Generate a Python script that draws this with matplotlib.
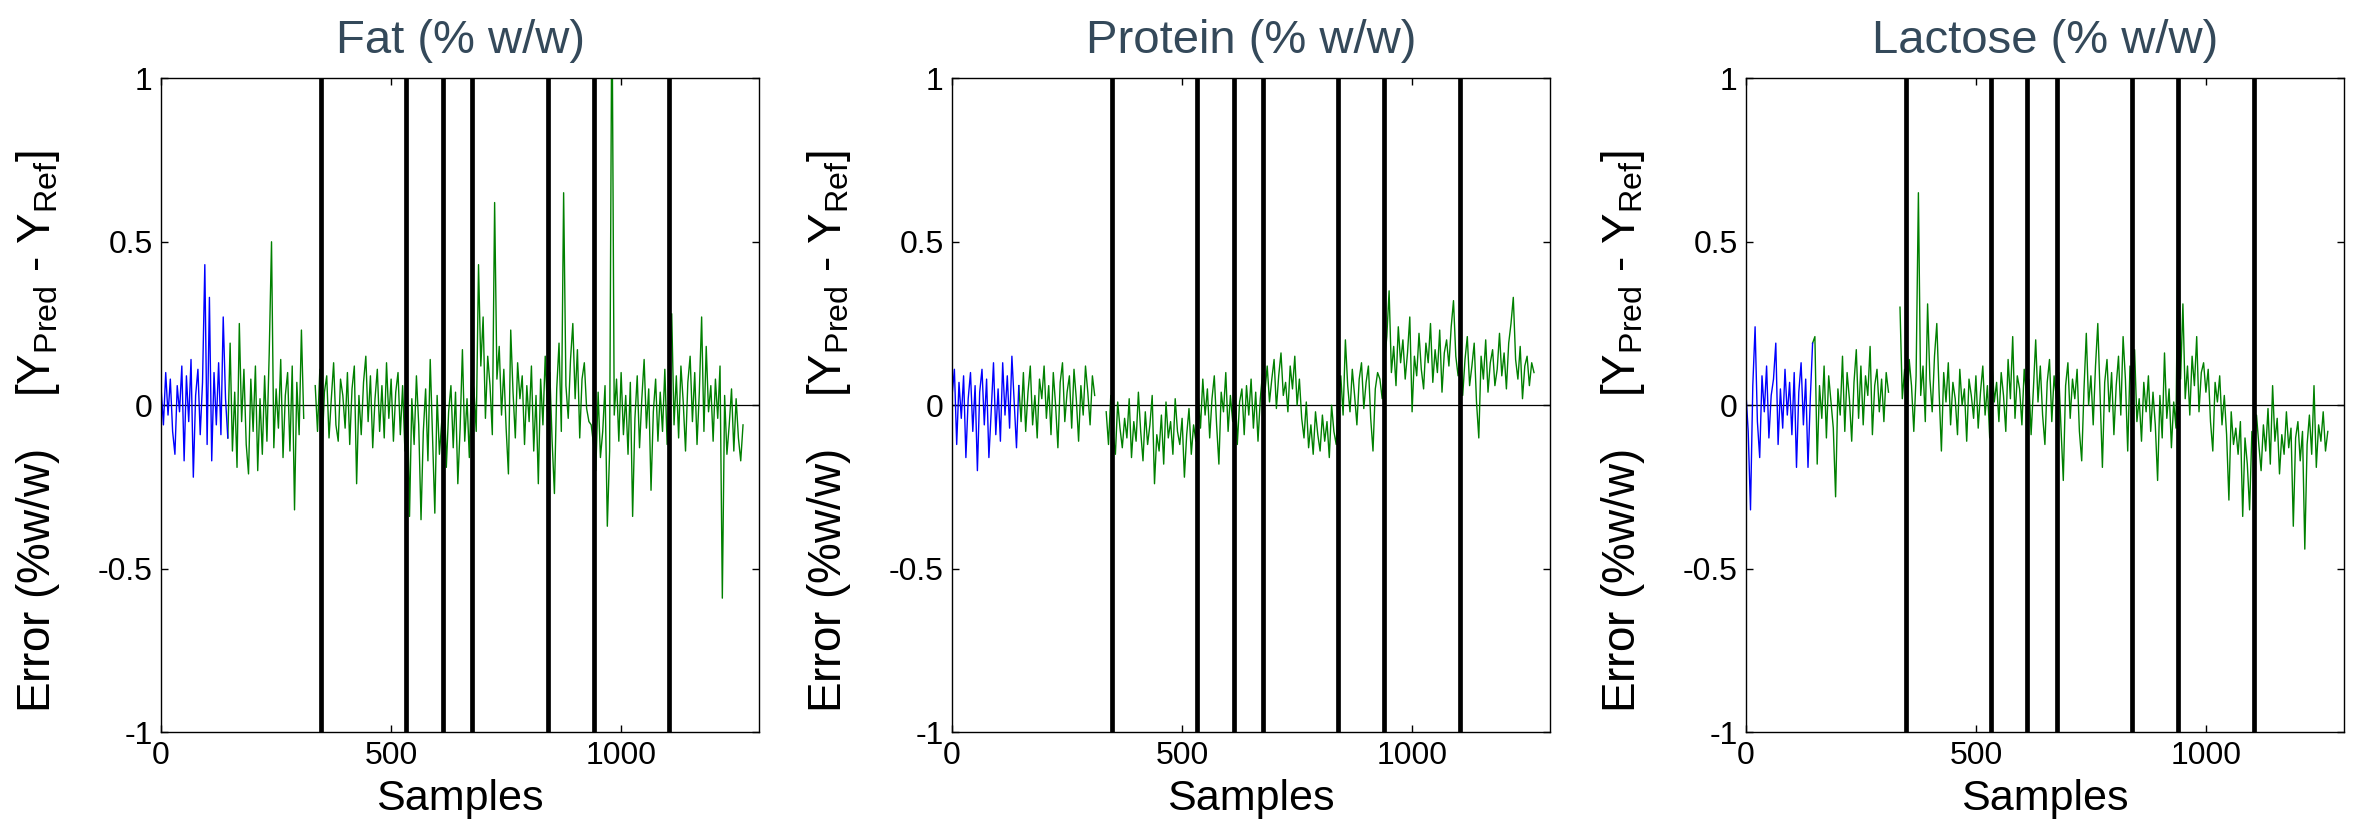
import numpy as np
import matplotlib
matplotlib.use("Agg")
import matplotlib.pyplot as plt
from matplotlib.ticker import FuncFormatter
from matplotlib import font_manager

# font: narrow arial-like if available
names = {f.name for f in font_manager.fontManager.ttflist}
FONT = 'Liberation Sans Narrow' if 'Liberation Sans Narrow' in names else 'Liberation Sans'
plt.rcParams['font.family'] = [FONT, 'DejaVu Sans']
plt.rcParams['mathtext.fontset'] = 'custom'
plt.rcParams['mathtext.rm'] = FONT
plt.rcParams['mathtext.it'] = FONT

nan = np.nan
SAMPLE_STEP = 5        # one value every 5 samples
N_CAL = 30             # first points (calibration) drawn in blue

titles = ["Fat (% w/w)", "Protein (% w/w)", "Lactose (% w/w)"]
boundaries = [348, 533, 612, 676, 840, 940, 1104]
x_ticks = [0, 500, 1000]
y_ticks = [-1, -0.5, 0, 0.5, 1]

fat_err = [
    0.05, -0.06, 0.10, -0.03, 0.08, -0.08, -0.15, 0.06, -0.02, 0.12,
    -0.17, 0.09, -0.05, 0.14, -0.22, 0.03, 0.11, -0.09, 0.07, 0.43,
    -0.12, 0.33, -0.17, 0.10, -0.06, 0.13, -0.09, 0.27, 0.02, -0.10,
    0.19, -0.14, 0.04, -0.19, 0.25, -0.05, 0.11, -0.12, -0.21, 0.08,
    -0.08, 0.12, -0.20, 0.02, -0.15, 0.09, -0.11, 0.16, 0.50, -0.13,
    0.05, -0.07, 0.14, -0.16, 0.03, 0.10, -0.14, 0.12, -0.32, 0.07,
    -0.09, 0.23, -0.04, nan, nan, nan, nan, 0.06, -0.08, 0.11,
    -0.13, 0.04, 0.09, -0.10, 0.02, 0.13, -0.06, -0.11, 0.08, 0.03,
    -0.07, 0.10, -0.12, 0.05, 0.12, -0.24, 0.03, -0.09, 0.07, 0.15,
    -0.05, 0.09, -0.13, 0.02, 0.11, -0.08, 0.06, -0.10, 0.13, -0.04,
    0.08, -0.11, 0.04, 0.10, -0.09, 0.06, -0.14, 0.07, -0.34, 0.02,
    -0.12, 0.09, -0.06, -0.35, -0.08, 0.05, -0.17, 0.14, -0.10, -0.33,
    0.03, -0.15, -0.05, 0.08, -0.19, -0.02, 0.06, -0.13, 0.04, -0.24,
    -0.07, 0.17, -0.11, 0.02, -0.16, 0.09, 0.05, -0.08, 0.43, 0.12,
    0.27, -0.04, 0.15, 0.06, -0.09, 0.62, 0.08, 0.18, -0.03, 0.11,
    -0.07, -0.21, 0.23, 0.04, -0.10, 0.13, 0.02, 0.09, -0.12, 0.06,
    -0.05, 0.12, -0.14, 0.03, -0.24, 0.08, -0.06, 0.15, -0.02, 0.10,
    -0.11, -0.27, 0.05, 0.19, -0.08, 0.65, 0.06, -0.04, 0.14, 0.25,
    0.02, 0.17, -0.10, 0.08, 0.13, -0.01, -0.05, -0.06, -0.12, -0.20,
    0.04, -0.16, -0.08, 0.06, -0.37, -0.14, 1.30, -0.03, 0.08, -0.11,
    0.10, -0.09, 0.03, -0.15, 0.07, -0.34, -0.04, 0.09, -0.13, 0.02,
    0.14, -0.07, 0.05, -0.26, -0.02, 0.08, -0.11, 0.04, -0.08, 0.11,
    -0.12, 0.05, 0.28, -0.06, 0.09, -0.10, 0.12, 0.01, -0.14, 0.07,
    0.15, -0.05, 0.10, -0.12, 0.04, 0.27, -0.08, 0.18, -0.02, 0.06,
    -0.11, 0.08, -0.04, 0.12, -0.59, 0.03, -0.15, -0.06, 0.05, -0.14,
    0.02, -0.10, -0.17, -0.06,
]

protein_err = [
    0.03, 0.11, -0.12, 0.07, -0.04, 0.09, -0.16, 0.02, 0.10, -0.08,
    0.06, -0.20, 0.04, 0.11, -0.06, 0.08, -0.16, -0.02, 0.13, -0.09,
    0.05, -0.11, 0.13, -0.03, 0.09, -0.07, 0.15, 0.01, -0.13, 0.06,
    -0.05, 0.10, -0.08, 0.04, 0.12, -0.06, 0.03, -0.10, 0.08, 0.02,
    0.12, -0.04, 0.06, -0.09, 0.10, 0.00, -0.13, 0.07, 0.13, -0.05,
    0.04, 0.09, -0.07, 0.11, 0.02, -0.11, 0.06, -0.03, 0.12, 0.04,
    -0.06, 0.09, 0.03, nan, nan, nan, nan, -0.02, -0.12, 0.03,
    -0.09, -0.15, 0.01, -0.07, -0.13, -0.04, -0.10, 0.02, -0.16, -0.05,
    -0.11, 0.04, -0.08, -0.17, -0.02, -0.12, -0.06, 0.03, -0.24, -0.09,
    -0.14, -0.03, -0.18, 0.01, -0.10, -0.05, -0.15, 0.02, -0.08, -0.12,
    -0.04, -0.22, -0.09, -0.01, -0.15, -0.06, -0.11, 0.03, -0.07, 0.08,
    -0.03, 0.05, -0.10, 0.02, 0.09, -0.06, -0.18, 0.04, -0.02, 0.10,
    -0.08, 0.03, -0.05, 0.07, -0.12, 0.01, 0.05, -0.09, 0.06, -0.03,
    0.08, -0.07, 0.04, -0.11, 0.02, 0.10, 0.04, 0.12, 0.01, 0.08,
    0.14, -0.01, 0.09, 0.16, 0.03, 0.07, -0.02, 0.12, 0.05, 0.15,
    0.00, 0.08, -0.04, -0.10, 0.01, -0.13, -0.06, -0.15, -0.02, -0.09,
    -0.14, -0.03, -0.11, -0.05, -0.16, 0.00, -0.08, -0.12, 0.02, 0.09,
    -0.03, 0.20, 0.06, -0.02, 0.11, 0.03, -0.06, 0.08, 0.13, -0.01,
    0.07, 0.12, -0.04, -0.14, 0.05, 0.10, 0.08, 0.02, 0.13, 0.21,
    0.35, 0.10, 0.18, 0.06, 0.24, 0.13, 0.20, 0.08, 0.16, 0.27,
    -0.02, 0.15, 0.09, 0.22, 0.11, 0.05, 0.19, 0.13, 0.25, 0.07,
    0.17, 0.10, 0.23, 0.04, 0.16, 0.20, 0.12, 0.24, 0.32, 0.15,
    0.09, 0.18, 0.03, 0.14, 0.21, 0.06, 0.12, 0.19, 0.01, -0.10,
    0.15, 0.08, 0.20, 0.04, 0.13, 0.17, 0.06, 0.11, 0.22, 0.09,
    0.16, 0.05, 0.19, 0.25, 0.33, 0.14, 0.08, 0.18, 0.02, 0.12,
    0.15, 0.06, 0.13, 0.10,
]

lactose_err = [
    0.04, -0.08, -0.32, 0.06, 0.24, -0.05, -0.16, 0.09, -0.02, 0.12,
    -0.10, 0.03, 0.08, 0.19, -0.12, 0.05, -0.07, 0.11, -0.03, 0.07,
    -0.09, 0.10, -0.19, 0.04, 0.13, -0.06, 0.08, -0.19, 0.02, 0.19,
    0.21, -0.18, 0.06, -0.04, 0.12, -0.10, 0.09, 0.01, -0.07, -0.28,
    0.05, -0.03, 0.15, -0.08, 0.10, 0.02, -0.11, 0.07, 0.17, -0.04,
    0.12, -0.06, 0.09, 0.03, 0.18, -0.09, 0.06, 0.11, -0.02, 0.08,
    -0.05, 0.10, 0.04, nan, nan, nan, nan, 0.30, 0.02, 0.11,
    -0.04, 0.14, 0.06, -0.08, 0.09, 0.65, 0.03, 0.12, -0.05, 0.31,
    0.08, -0.02, 0.15, 0.25, 0.04, -0.14, 0.10, 0.01, 0.13, -0.06,
    0.07, 0.02, -0.09, 0.11, 0.00, 0.05, -0.11, 0.08, 0.03, -0.04,
    0.09, -0.07, 0.04, 0.12, -0.03, 0.06, -0.10, 0.13, 0.01, 0.07,
    -0.05, 0.10, 0.03, -0.08, 0.14, 0.02, 0.21, -0.04, 0.09, 0.05,
    -0.06, 0.11, 0.03, 0.08, -0.09, 0.05, 0.20, 0.01, 0.12, -0.03,
    -0.12, 0.07, 0.14, -0.05, 0.09, 0.02, 0.10, -0.07, -0.23, 0.06,
    0.13, -0.04, 0.08, 0.02, 0.11, -0.08, -0.17, 0.05, 0.22, 0.00,
    0.09, -0.06, 0.12, 0.25, 0.03, -0.19, 0.07, 0.14, -0.02, 0.10,
    -0.09, 0.06, 0.15, -0.03, 0.21, 0.08, -0.14, 0.12, 0.04, 0.17,
    -0.05, 0.02, -0.11, 0.07, -0.02, 0.09, -0.08, 0.04, -0.06, -0.23,
    0.03, -0.10, 0.16, -0.04, 0.05, -0.13, 0.01, -0.07, 0.64, 0.08,
    0.31, 0.02, 0.12, -0.03, 0.15, 0.06, 0.21, -0.02, 0.10, 0.13,
    0.04, 0.11, -0.05, -0.14, 0.07, 0.01, 0.09, -0.06, 0.03, -0.09,
    -0.29, -0.02, -0.12, -0.07, -0.15, -0.05, -0.34, -0.10, -0.18, -0.32,
    -0.08, -0.16, -0.03, -0.12, -0.20, -0.06, -0.14, -0.01, -0.18, 0.06,
    -0.11, -0.04, -0.21, -0.09, -0.15, -0.02, -0.13, -0.07, -0.37, -0.10,
    -0.05, -0.17, -0.08, -0.44, -0.12, -0.03, -0.15, 0.06, -0.19, -0.06,
    -0.11, -0.02, -0.14, -0.08,
]

series = [fat_err, protein_err, lactose_err]

fig = plt.figure(figsize=(23.59, 8.33), dpi=100)
lefts = [0.0683, 0.4036, 0.7401]
width = 0.2535
bottom, height = 0.121, 0.785

for k in range(3):
    ax = fig.add_axes([lefts[k], bottom, width, height])
    y = np.array(series[k])
    x = np.arange(len(y)) * SAMPLE_STEP

    ax.axhline(0, color='black', lw=0.9, zorder=1)
    ax.plot(x[N_CAL - 1:], y[N_CAL - 1:], color='#008000', lw=1.0, zorder=2)
    ax.plot(x[:N_CAL], y[:N_CAL], color='#0000FF', lw=1.0, zorder=2)
    for b in boundaries:
        ax.axvline(b, color='black', lw=3.4, zorder=3)

    ax.set_xlim(0, 1300)
    ax.set_ylim(-1, 1)
    ax.set_xticks(x_ticks)
    ax.set_yticks(y_ticks)
    ax.yaxis.set_major_formatter(FuncFormatter(lambda v, p: f"{v:g}"))
    ax.tick_params(direction='in', length=5, width=1, labelsize=23,
                   top=True, right=True, pad=6)
    for s in ax.spines.values():
        s.set_linewidth(1.0)

    ax.set_title(titles[k], fontsize=34, color='#34495A', pad=18)
    ax.set_xlabel("Samples", fontsize=31, labelpad=6)
    ax.set_ylabel(r"Error (%w/w)    [Y$_{\mathrm{Pred}}$ - Y$_{\mathrm{Ref}}$]",
                  fontsize=33)
    ax.yaxis.set_label_coords(-0.165, 0.46)

fig.savefig("out.png", dpi=100)
